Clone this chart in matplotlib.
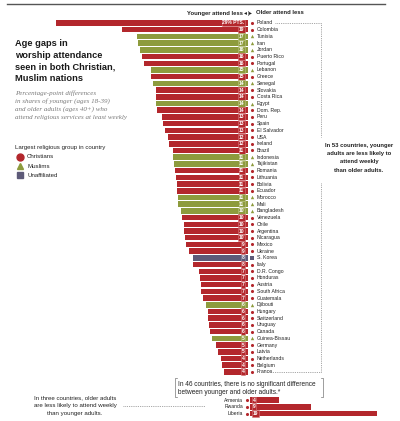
import matplotlib.pyplot as plt
import numpy as np

plt.rcParams['font.family'] = ['Liberation Sans', 'DejaVu Sans']

# Countries where younger adults attend less (top block)
countries = ["Poland", "Colombia", "Tunisia", "Iran", "Jordan", "Puerto Rico", "Portugal",
             "Lebanon", "Greece", "Senegal", "Slovakia", "Costa Rica", "Egypt", "Dom. Rep.",
             "Peru", "Spain", "El Salvador", "USA", "Ireland", "Brazil", "Indonesia",
             "Tajikistan", "Romania", "Lithuania", "Bolivia", "Ecuador", "Morocco", "Mali",
             "Bangladesh", "Venezuela", "Chile", "Argentina", "Nicaragua", "Mexico", "Ukraine",
             "S. Korea", "Italy", "D.R. Congo", "Honduras", "Austria", "South Africa",
             "Guatemala", "Djibouti", "Hungary", "Switzerland", "Uruguay", "Canada",
             "Guinea-Bissau", "Germany", "Latvia", "Netherlands", "Belgium", "France"]
groups = ["C", "C", "M", "M", "M", "C", "C",
          "M", "C", "M", "C", "C", "M", "C",
          "C", "C", "C", "C", "C", "C", "M",
          "M", "C", "C", "C", "C", "M", "M",
          "M", "C", "C", "C", "C", "C", "C",
          "U", "C", "C", "C", "C", "C",
          "C", "M", "C", "C", "C", "C",
          "M", "C", "C", "C", "C", "C"]
gaps = [29.1, 19.1, 16.8, 16.6, 16.4, 16.1, 15.8,
        14.7, 14.7, 14.4, 13.9, 13.9, 13.9, 13.8,
        13.0, 12.9, 12.6, 12.1, 12.0, 11.4, 11.4,
        11.2, 11.1, 10.9, 10.8, 10.8, 10.6, 10.6,
        10.2, 10.0, 9.7, 9.7, 9.6, 9.4, 8.9,
        8.4, 8.4, 7.4, 7.3, 7.1, 7.1,
        6.8, 6.4, 6.1, 6.1, 5.9, 5.8,
        5.4, 4.9, 4.6, 4.1, 3.9, 3.6]
gap_labels = [29, 19, 17, 17, 16, 16, 16,
              15, 15, 14, 14, 14, 14, 14,
              13, 13, 13, 12, 12, 11, 11,
              11, 11, 11, 11, 11, 11, 11,
              10, 10, 10, 10, 10, 9, 9,
              8, 8, 7, 7, 7, 7,
              7, 6, 6, 6, 6, 6,
              5, 5, 5, 4, 4, 4]

# Countries where older adults attend less
rev_countries = ["Armenia", "Rwanda", "Liberia"]
rev_gaps = [4.4, 9.2, 19.2]
rev_labels = [4, 9, 19]

colors = {"C": "#b3272c", "M": "#8d9b3d", "U": "#5d5a78"}
rims = {"C": "#d77a7d", "M": "#bcc586", "U": "#9a97ae"}
markers = {"C": "o", "M": "^", "U": "s"}
legend_names = {"C": "Christians", "M": "Muslims", "U": "Unaffiliated"}

W, H = 400, 421
X0, SX = 248, 6.6      # pixel of zero, pixels per point
Y0, SY = 23, 6.71      # pixel of first row, pixels per row


def px(x, y):
    return (x - X0) / SX, (y - Y0) / SY


fig = plt.figure(figsize=(W / 100, H / 100), dpi=100)
ax = fig.add_axes([0, 0, 1, 1])
ax.set_axis_off()
ax.set_xlim(-X0 / SX, (W - X0) / SX)
ax.set_ylim((H - Y0) / SY, -Y0 / SY)


def ftext(x, y, s, **kw):
    fig.text(x / W, 1 - y / H, s, **kw)


# main bars
rows = np.arange(len(countries))
bar_cols = [colors[g] for g in groups]
ax.barh(rows, -np.array(gaps), height=0.82, color=bar_cols, linewidth=0)

for i, (name, g, lab) in enumerate(zip(countries, groups, gap_labels)):
    s = "29% PTS." if i == 0 else str(lab)
    ax.text(-0.55, i, s, ha='right', va='center', color='white', fontsize=3.6,
            fontweight='bold',
            bbox=dict(boxstyle='square,pad=0.12', fc=colors[g], ec=rims[g], lw=0.4))
    ax.scatter(0.6, i, marker=markers[g], s=5 if g != "M" else 6, color=colors[g],
               linewidths=0, zorder=3)
    ax.text(1.3, i, name, ha='left', va='center', fontsize=3.7, color='#222222')

# reversed bars at bottom
rrows = np.array([56.2, 57.2, 58.2])
ax.barh(rrows, rev_gaps, left=0.3, height=0.82, color=colors["C"], linewidth=0)
for r, name, lab in zip(rrows, rev_countries, rev_labels):
    ax.text(0.75, r, str(lab), ha='left', va='center', color='white', fontsize=3.6,
            fontweight='bold',
            bbox=dict(boxstyle='square,pad=0.12', fc=colors["C"], ec=rims["C"], lw=0.4))
    ax.scatter(-0.15, r, marker='o', s=5, color=colors["C"], linewidths=0, zorder=3)
    ax.text(-0.75, r, name, ha='right', va='center', fontsize=3.6, color='#222222')

# header
hy = px(0, 13)[1]
ax.text(-0.75, hy, "Younger attend less", ha='right', va='center', fontsize=4.2,
        fontweight='bold', color='#222222')
ax.text(-0.15, hy, "\u25c2", ha='right', va='center', fontsize=4.2,
        family=['DejaVu Sans'], color='#222222')
ax.text(0, hy, "|", ha='center', va='center', fontsize=4.2, color='#222222')
ax.text(0.15, hy, "\u25b8", ha='left', va='center', fontsize=4.2,
        family=['DejaVu Sans'], color='#222222')
ax.text(1.2, hy, "Older attend less", ha='left', va='center', fontsize=4.2,
        fontweight='bold', color='#222222')

# top rule
fig.add_artist(plt.Line2D([7 / W, 385 / W], [1 - 4 / H, 1 - 4 / H], color='#555555', lw=1.0))

# dotted brackets on the right
dot = dict(color='#888888', lw=0.6, linestyle=(0, (1, 1.2)))
for seg in [[(275, 23), (321, 23), (321, 137)],
            [(321, 183), (321, 372), (270, 372)],
            [(123, 406), (205, 406)]]:
    xs, ys = zip(*[px(a, b) for a, b in seg])
    ax.plot(xs, ys, **dot)

for k, line in enumerate(["In 53 countries, younger", "adults are less likely to",
                          "attend weekly", "than older adults."]):
    ftext(359, 146 + 8 * k, line, ha='center', va='center', fontsize=4.2,
          fontweight='bold', color='#222222')

# bracket for the 46 countries
bx = [px(177, 378), px(175, 378), px(175, 397), px(177, 397)]
ax.plot(*zip(*bx), color='#777777', lw=0.5)
bx = [px(321, 378), px(323, 378), px(323, 397), px(321, 397)]
ax.plot(*zip(*bx), color='#777777', lw=0.5)
ftext(178, 384, "In 46 countries, there is no significant difference",
      ha='left', va='center', fontsize=4.7, color='#222222')
ftext(178, 392, "between younger and older adults.*",
      ha='left', va='center', fontsize=4.7, color='#222222')

for k, line in enumerate(["In three countries, older adults",
                          "are less likely to attend weekly",
                          "than younger adults."]):
    ftext(75, 398 + 8 * k, line, ha='center', va='center', fontsize=4.4, color='#222222')

# title block
for k, line in enumerate(["Age gaps in", "worship attendance",
                          "seen in both Christian,", "Muslim nations"]):
    ftext(15, 44 + 11.5 * k, line, ha='left', va='center', fontsize=6.7,
          fontweight='bold', color='#1a1a1a')

for k, line in enumerate(["Percentage-point differences",
                          "in shares of younger (ages 18-39)",
                          "and older adults (ages 40+) who",
                          "attend religious services at least weekly"]):
    ftext(15, 93 + 8 * k, line, ha='left', va='center', fontsize=5.0,
          family=['Liberation Serif'], style='italic', color='#7a7a7a')

# legend
ftext(15, 148, "Largest religious group in country", ha='left', va='center',
      fontsize=4.4, color='#222222')
for k, g in enumerate(["C", "M", "U"]):
    yy = 157 + 9 * k
    fig.add_artist(plt.Line2D([20 / W], [1 - yy / H], marker=markers[g], markersize=5,
                              color=colors[g], linestyle='none'))
    ftext(27, yy, legend_names[g], ha='left', va='center', fontsize=4.4, color='#222222')

fig.savefig("out.png", dpi=100)
